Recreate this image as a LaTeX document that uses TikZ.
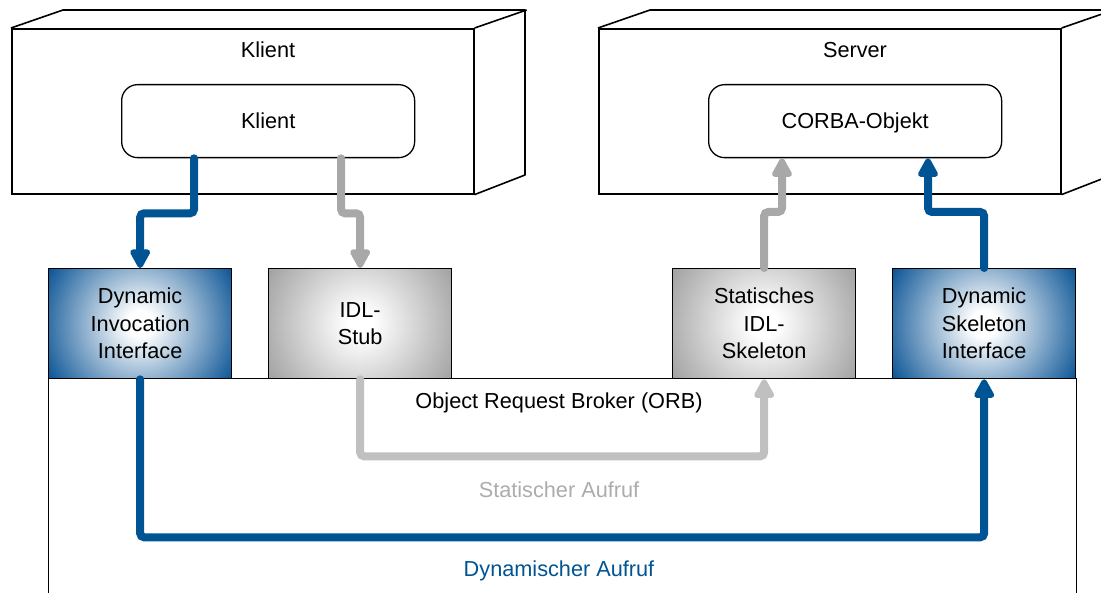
\documentclass[tikz,border=0pt]{standalone}
\usepackage{fontspec}
\setmainfont{Liberation Sans}
\usetikzlibrary{arrows.meta,calc}

\definecolor{orbblue}{RGB}{0,84,147}
\definecolor{stubgray}{RGB}{168,168,168}
\definecolor{callgray}{RGB}{192,192,192}
\definecolor{labelgray}{RGB}{172,172,172}
\definecolor{shadeblue}{RGB}{8,82,148}
\definecolor{shadegray}{RGB}{160,160,160}

% white centre fading out towards the corners (used on a circle)
\pgfdeclareradialshading{dynshade}{\pgfpoint{0bp}{0bp}}{color(0bp)=(white); color(3bp)=(white); color(25bp)=(shadeblue); color(50bp)=(shadeblue)}
\pgfdeclareradialshading{statshade}{\pgfpoint{0bp}{0bp}}{color(0bp)=(white); color(3bp)=(white); color(25bp)=(shadegray); color(50bp)=(shadegray)}

\tikzset{
  host/.style={draw, line width=1.6pt, minimum width=462pt, minimum height=165pt,
    inner sep=0pt, anchor=north west},
  hostside/.style={draw, line width=1.6pt, line join=round},
  objbox/.style={draw, line width=1.3pt, rounded corners=16pt, minimum width=293pt,
    minimum height=73pt, inner sep=0pt, anchor=north west,
    text height=15.5pt, text depth=0pt},
  iface/.style={draw, line width=1.3pt, minimum width=183pt, minimum height=110pt,
    inner sep=0pt, anchor=north west, align=center},
  dynbox/.style={iface, path picture={\shade[shading=dynshade]
    (path picture bounding box.center) circle (108pt);}},
  statbox/.style={iface, path picture={\shade[shading=statshade]
    (path picture bounding box.center) circle (108pt);}},
  callline/.style={line width=8pt, line cap=round, rounded corners=4pt,
    -{Triangle[length=22pt,width=22pt,round]}},
  dyncall/.style={callline, draw=orbblue},
  stubcall/.style={callline, draw=stubgray},
  statcall/.style={callline, draw=callgray},
  title/.style={anchor=base, inner sep=0pt},
}

\begin{document}
\begin{tikzpicture}[x=1pt, y=-1pt, font=\fontsize{21.7}{27.5}\selectfont]
\useasboundingbox (0,0) rectangle (1101,593);
\begin{scope}
\clip (0,0) rectangle (1101,593);

% Object Request Broker
\node[draw, line width=1.3pt, minimum width=1028pt, minimum height=260pt,
  inner sep=0pt, anchor=north west] (orb) at (48,378) {};
\node[title] (orblabel) at (559,409) {Object Request Broker (ORB)};

% interfaces sitting on the ORB
\node[dynbox]  (dii)  at (48,268)  {Dynamic\\Invocation\\Interface};
\node[statbox] (stub) at (268,268) {IDL-\\Stub};
\node[statbox] (skel) at (672,268) {Statisches\\IDL-\\Skeleton};
\node[dynbox]  (dsi)  at (892,268) {Dynamic\\Skeleton\\Interface};

% client host
\node[host] (kh) at (11,28) {};
\draw[hostside] (kh.north west) -- ++(52,-18) -- ++(462,0) -- ++(0,165) -- (kh.south east);
\draw[hostside] (kh.north east) -- ++(52,-18);
\node[title] (ktitle) at (268,58) {Klient};
\node[objbox] (kin) at (121,84) {Klient};

% server host
\node[host] (sh) at (598,28) {};
\draw[hostside] (sh.north west) -- ++(52,-18) -- ++(462,0) -- ++(0,165) -- (sh.south east);
\draw[hostside] (sh.north east) -- ++(52,-18);
\node[title] (stitle) at (855,58) {Server};
\node[objbox] (cob) at (708,84) {CORBA-Objekt};

% connector end points on the rounded boxes
\coordinate (kdyn)  at ($(kin.south west)+(73,0)$);
\coordinate (kstat) at ($(kin.south west)+(220,0)$);
\coordinate (cstat) at ($(cob.south west)+(74,0)$);
\coordinate (cdyn)  at ($(cob.south west)+(220,0)$);

% calls
\draw[dyncall]  (kdyn) -- ++(0,55) -| (dii.north);
\draw[stubcall] (kstat) -- ++(0,55) -| (stub.north);
\draw[stubcall] (skel.north) -- ++(0,-56) -| (cstat);
\draw[dyncall]  (dsi.north) -- ++(0,-56) -| (cdyn);
\draw[statcall] (stub.south) -- ++(0,77) -| (skel.south);
\draw[dyncall]  (dii.south) -- ++(0,158) -| (dsi.south);

\node[title, text=labelgray] (statlabel) at (559,497) {Statischer Aufruf};
\node[title, text=orbblue] (dynlabel) at (559,576) {Dynamischer Aufruf};
\end{scope}
\end{tikzpicture}
\end{document}
